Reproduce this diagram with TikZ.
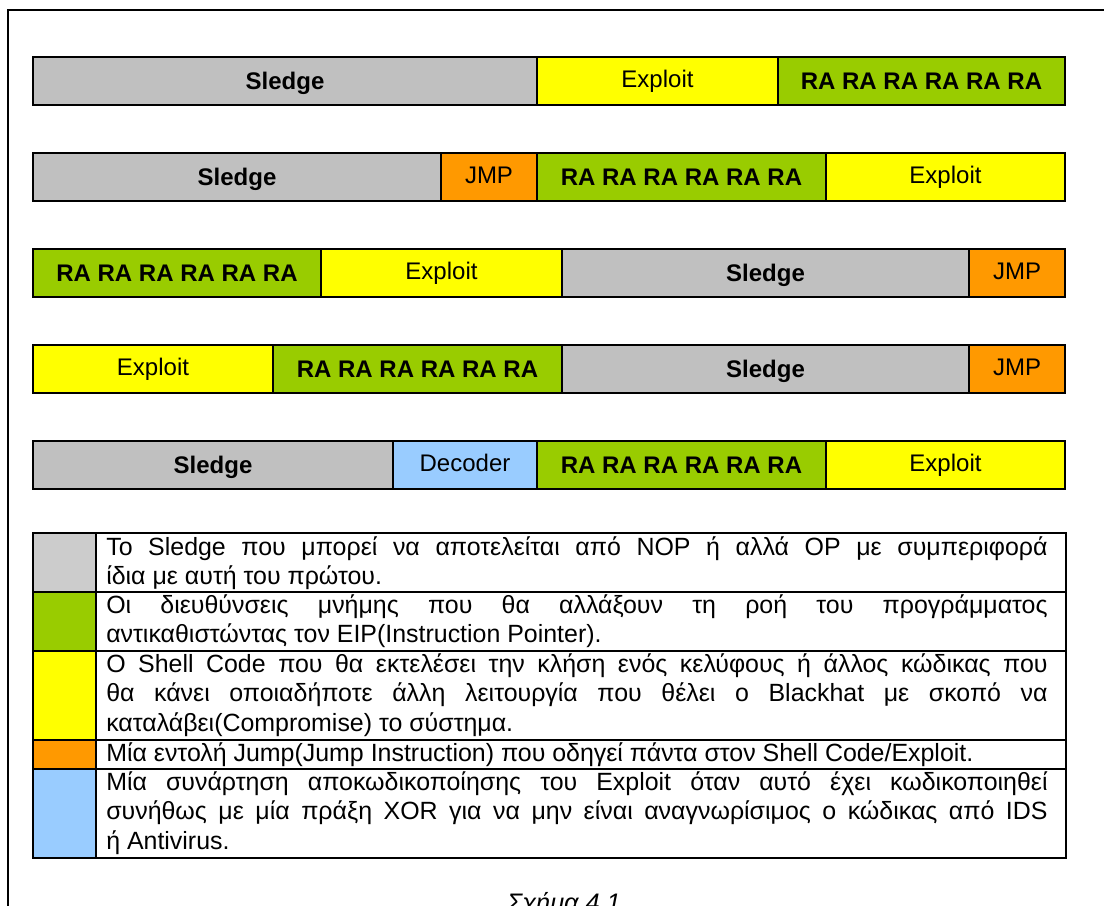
\documentclass[tikz,border=0pt]{standalone}
\usepackage{fontspec}
\setmainfont{Liberation Sans}
\definecolor{sledgegray}{HTML}{C0C0C0}
\definecolor{leggray}{HTML}{CCCCCC}
\definecolor{exployellow}{HTML}{FFFF00}
\definecolor{ragreen}{HTML}{99CC00}
\definecolor{jmporange}{HTML}{FF9900}
\definecolor{decblue}{HTML}{99CCFF}
\hyphenpenalty=10000
\tikzset{
  seg/.style={draw=black, line width=1pt},
  boldlbl/.style={font=\fontsize{18}{21}\selectfont\bfseries, text height=13pt, text depth=0pt, inner sep=0pt},
  plainlbl/.style={font=\fontsize{18}{21}\selectfont, text height=13pt, text depth=3pt, inner sep=0pt},
  legline/.style={draw=black, line width=.8pt},
  legtext/.style={anchor=west, inner sep=0pt, text width=706pt, align=justify,
    font=\fontsize{18.7}{22}\selectfont},
}

\begin{document}
\begin{tikzpicture}[x=0.75pt,y=-0.75pt]
    \useasboundingbox (0,0) rectangle (1104,906);
    \draw[line width=1.5pt] (1104,10) -- (8,10) -- (8,906);

    % row 1
    \draw[seg, fill=sledgegray] (33,57) rectangle (537,105) node[midway, boldlbl] (s1) {Sledge};
    \draw[seg, fill=exployellow] (537,57) rectangle (778,105) node[midway, plainlbl] (e1) {Exploit};
    \draw[seg, fill=ragreen] (778,57) rectangle (1065,105) node[midway, boldlbl] (r1) {RA RA RA RA RA RA};

    % row 2
    \draw[seg, fill=sledgegray] (33,153) rectangle (441,201) node[midway, boldlbl] (s2) {Sledge};
    \draw[seg, fill=jmporange] (441,153) rectangle (537,201) node[midway, plainlbl] (j2) {JMP};
    \draw[seg, fill=ragreen] (537,153) rectangle (826,201) node[midway, boldlbl] (r2) {RA RA RA RA RA RA};
    \draw[seg, fill=exployellow] (826,153) rectangle (1065,201) node[midway, plainlbl] (e2) {Exploit};

    % row 3
    \draw[seg, fill=ragreen] (33,249) rectangle (321,297) node[midway, boldlbl] (r3) {RA RA RA RA RA RA};
    \draw[seg, fill=exployellow] (321,249) rectangle (562,297) node[midway, plainlbl] (e3) {Exploit};
    \draw[seg, fill=sledgegray] (562,249) rectangle (969,297) node[midway, boldlbl] (s3) {Sledge};
    \draw[seg, fill=jmporange] (969,249) rectangle (1065,297) node[midway, plainlbl] (j3) {JMP};

    % row 4
    \draw[seg, fill=exployellow] (33,345) rectangle (273,393) node[midway, plainlbl] (e4) {Exploit};
    \draw[seg, fill=ragreen] (273,345) rectangle (562,393) node[midway, boldlbl] (r4) {RA RA RA RA RA RA};
    \draw[seg, fill=sledgegray] (562,345) rectangle (969,393) node[midway, boldlbl] (s4) {Sledge};
    \draw[seg, fill=jmporange] (969,345) rectangle (1065,393) node[midway, plainlbl] (j4) {JMP};

    % row 5
    \draw[seg, fill=sledgegray] (33,441) rectangle (393,489) node[midway, boldlbl] (s5) {Sledge};
    \draw[seg, fill=decblue] (393,441) rectangle (537,489) node[midway, plainlbl] (d5) {Decoder};
    \draw[seg, fill=ragreen] (537,441) rectangle (826,489) node[midway, boldlbl] (r5) {RA RA RA RA RA RA};
    \draw[seg, fill=exployellow] (826,441) rectangle (1065,489) node[midway, plainlbl] (e5) {Exploit};

    % legend
    \draw[legline, fill=leggray] (33,533) rectangle (96,592);
    \draw[legline, fill=ragreen] (33,592) rectangle (96,651);
    \draw[legline, fill=exployellow] (33,651) rectangle (96,740);
    \draw[legline, fill=jmporange] (33,740) rectangle (96,769);
    \draw[legline, fill=decblue] (33,769) rectangle (96,858);
    \draw[legline] (96,533) rectangle (1066,592);
    \draw[legline] (96,592) rectangle (1066,651);
    \draw[legline] (96,651) rectangle (1066,740);
    \draw[legline] (96,740) rectangle (1066,769);
    \draw[legline] (96,769) rectangle (1066,858);

    \node[legtext] (t1) at (106,563) {Το Sledge που μπορεί να αποτελείται από NOP ή αλλά OP με συμπεριφορά\linebreak ίδια με αυτή του πρώτου.};
    \node[legtext] (t2) at (106,621) {Οι διευθύνσεις μνήμης που θα αλλάξουν τη ροή του προγράμματος\linebreak αντικαθιστώντας τον EIP(Instruction Pointer).};
    \node[legtext] (t3) at (106,695) {Ο Shell Code που θα εκτελέσει την κλήση ενός κελύφους ή άλλος κώδικας που\linebreak θα κάνει οποιαδήποτε άλλη λειτουργία που θέλει ο Blackhat με σκοπό να\linebreak καταλάβει(Compromise) το σύστημα.};
    \node[legtext] (t4) at (106,755) {Μία εντολή Jump(Jump Instruction) που οδηγεί πάντα στον Shell Code/Exploit.};
    \node[legtext] (t5) at (106,813) {Μία συνάρτηση αποκωδικοποίησης του Exploit όταν αυτό έχει κωδικοποιηθεί\linebreak συνήθως με μία πράξη XOR για να μην είναι αναγνωρίσιμος ο κώδικας από IDS\linebreak ή Antivirus.};

    \node[font=\fontsize{19}{22}\selectfont\itshape, anchor=base, inner sep=0pt] (cap) at (564,911) {Σχήμα 4.1};
\end{tikzpicture}
\end{document}
